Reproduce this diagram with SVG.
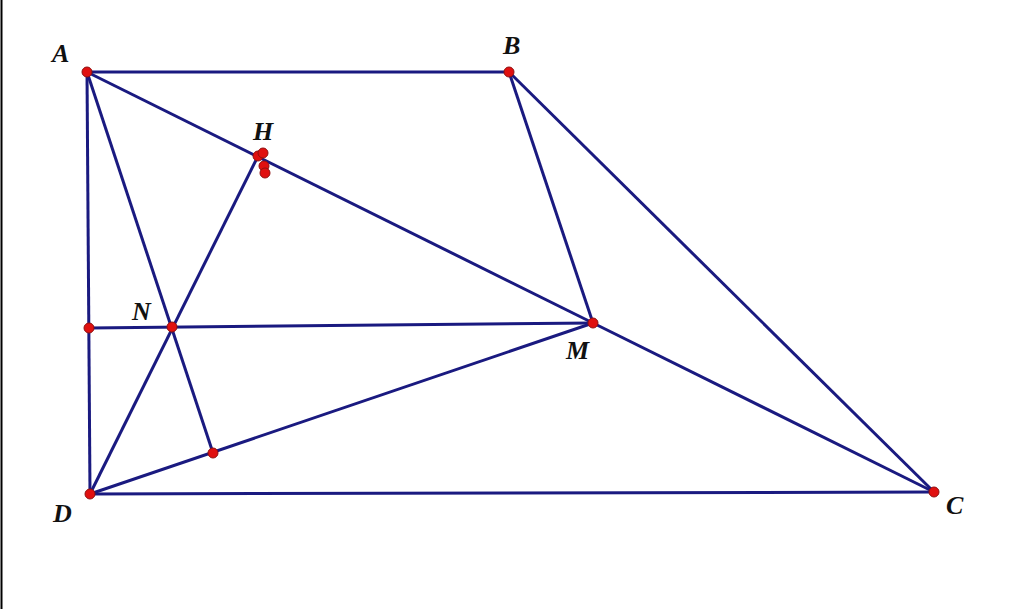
<svg xmlns="http://www.w3.org/2000/svg" width="1024" height="609" viewBox="0 0 1024 609">
<style>
.l{stroke:#1a1a80;stroke-width:3;fill:none}
.p{fill:#e01010;stroke:#901010;stroke-width:1}
.t{font-family:"Liberation Serif",serif;font-weight:bold;font-style:italic;font-size:26px;fill:#111}
</style>
<rect width="1024" height="609" fill="#fff"/>
<line x1="1.5" y1="0" x2="1.5" y2="609" stroke="#000" stroke-width="2"/>
<g id="connectors" class="l">
<line x1="87" y1="72" x2="509" y2="72"/>
<line x1="87" y1="72" x2="90" y2="494"/>
<line x1="90" y1="494" x2="934" y2="492"/>
<line x1="509" y1="72" x2="934" y2="492"/>
<line x1="509" y1="72" x2="593" y2="323"/>
<line x1="87" y1="72" x2="593" y2="323"/>
<line x1="593" y1="323" x2="934" y2="492"/>
<line x1="87" y1="72" x2="213" y2="453"/>
<line x1="89" y1="328" x2="593" y2="323"/>
<line x1="258" y1="156" x2="90" y2="494"/>
<line x1="90" y1="494" x2="593" y2="323"/>
</g>
<g id="points">
<circle class="p" cx="87" cy="72" r="5"/>
<circle class="p" cx="509" cy="72" r="5"/>
<circle class="p" cx="934" cy="492" r="5"/>
<circle class="p" cx="90" cy="494" r="5"/>
<circle class="p" cx="593" cy="323" r="5"/>
<circle class="p" cx="172" cy="327" r="5"/>
<circle class="p" cx="89" cy="328" r="5"/>
<circle class="p" cx="213" cy="453" r="5"/>
<circle class="p" cx="258" cy="156" r="5"/>
<circle class="p" cx="263" cy="153" r="5"/>
<circle class="p" cx="264" cy="166" r="5"/>
<circle class="p" cx="265" cy="173" r="5"/>
</g>
<g id="labels">
<text class="t" x="52" y="62">A</text>
<text class="t" x="503" y="54">B</text>
<text class="t" x="946" y="514">C</text>
<text class="t" x="53" y="522">D</text>
<text class="t" x="566" y="359">M</text>
<text class="t" x="132" y="320">N</text>
<text class="t" x="253" y="140">H</text>
</g>
</svg>
